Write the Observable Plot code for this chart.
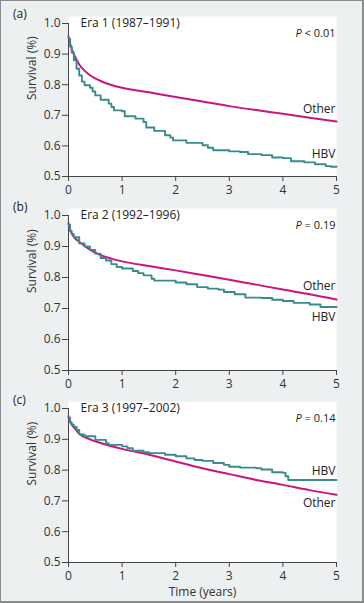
<!DOCTYPE html>
<html>
<head>
<meta charset="utf-8">
<script src="https://cdn.jsdelivr.net/npm/d3@7"></script>
<script src="https://cdn.jsdelivr.net/npm/@observablehq/plot@0.6"></script>
<style>
  html, body { margin:0; padding:0; }
  body { width:364px; height:603px; position:relative; background:#edf0f1; overflow:hidden; font-family:"Open Sans", sans-serif; }
  #border { position:absolute; left:0; top:0; width:364px; height:603px; box-sizing:border-box; border:1px solid #8a8c8e; border-right-width:2px; border-bottom-width:2px; pointer-events:none; }
  .panel { position:absolute; left:0; }
  .plabel { position:absolute; left:13px; font-size:12px; color:#222; line-height:1; }
</style>
</head>
<body>
<div id="border"></div>
<script>
const panelLabels = ["(a)", "(b)", "(c)"];
const eraTitles = ["Era 1 (1987–1991)", "Era 2 (1992–1996)", "Era 3 (1997–2002)"];
const pTexts = ["< 0.01", "= 0.19", "= 0.14"];
const seriesNames = ["Other", "HBV"];
const xTicks = [0, 1, 2, 3, 4, 5];
const yTicks = [0.5, 0.6, 0.7, 0.8, 0.9, 1.0];
const xLabel = "Time (years)";
const yLabel = "Survival (%)";

// Era 1
const otherA = [[0,0.958],[0.03,0.935],[0.07,0.912],[0.12,0.892],[0.2,0.866],[0.3,0.846],[0.4,0.831],[0.5,0.821],[0.6,0.812],[0.8,0.799],[1,0.790],[1.5,0.775],[2,0.760],[2.5,0.745],[3,0.730],[3.5,0.717],[4,0.705],[4.5,0.692],[5,0.680]];
const hbvA = [[0,0.950],[0.03,0.925],[0.06,0.905],[0.1,0.880],[0.15,0.852],[0.2,0.830],[0.25,0.810],[0.3,0.798],[0.4,0.790],[0.45,0.778],[0.5,0.765],[0.6,0.751],[0.75,0.738],[0.8,0.727],[0.85,0.716],[1,0.713],[1.05,0.697],[1.25,0.689],[1.4,0.678],[1.45,0.660],[1.6,0.649],[1.8,0.635],[1.9,0.627],[1.95,0.618],[2.2,0.610],[2.5,0.602],[2.6,0.594],[2.7,0.586],[3,0.582],[3.2,0.580],[3.35,0.573],[3.6,0.570],[3.8,0.562],[4,0.560],[4.15,0.550],[4.4,0.546],[4.6,0.540],[4.8,0.534],[4.9,0.532],[5,0.532]];
// Era 2
const otherB = [[0,0.976],[0.03,0.955],[0.06,0.942],[0.1,0.931],[0.2,0.915],[0.3,0.902],[0.4,0.890],[0.6,0.872],[0.8,0.861],[1,0.852],[1.5,0.837],[2,0.823],[2.5,0.808],[3,0.793],[3.5,0.777],[4,0.761],[4.5,0.746],[5,0.729]];
const hbvB = [[0,0.970],[0.03,0.950],[0.06,0.940],[0.1,0.930],[0.2,0.910],[0.3,0.900],[0.4,0.889],[0.5,0.877],[0.6,0.863],[0.7,0.855],[0.8,0.843],[0.9,0.834],[1,0.829],[1.2,0.821],[1.3,0.814],[1.4,0.807],[1.55,0.796],[1.6,0.790],[2,0.784],[2.2,0.778],[2.4,0.769],[2.6,0.764],[2.8,0.761],[2.9,0.753],[3.1,0.746],[3.3,0.735],[3.6,0.734],[3.8,0.728],[4,0.724],[4.2,0.718],[4.5,0.713],[4.7,0.705],[5,0.705]];
// Era 3
const otherC = [[0,0.975],[0.03,0.958],[0.06,0.948],[0.1,0.939],[0.2,0.918],[0.4,0.900],[0.6,0.888],[1,0.869],[1.5,0.850],[2,0.828],[2.5,0.806],[3,0.787],[3.5,0.768],[4,0.752],[4.5,0.735],[5,0.720]];
const hbvC = [[0,0.970],[0.03,0.955],[0.06,0.947],[0.1,0.940],[0.15,0.930],[0.2,0.916],[0.3,0.910],[0.5,0.898],[0.7,0.887],[0.75,0.882],[1,0.877],[1.1,0.871],[1.2,0.863],[1.4,0.858],[1.5,0.855],[1.8,0.850],[2,0.845],[2.2,0.838],[2.35,0.833],[2.5,0.830],[2.7,0.823],[2.9,0.817],[3,0.811],[3.2,0.808],[3.5,0.806],[3.6,0.802],[3.8,0.793],[4,0.791],[4.05,0.780],[4.1,0.768],[5,0.768]];

const otherSeries = [otherA, otherB, otherC];
const hbvSeries = [hbvA, hbvB, hbvC];

const MAGENTA = "#c6177f";
const TEAL = "#3a8a8c";
const TEXT = "#222";
const AXIS = "#444";
const FS = 12;

const panelTops = [0, 192, 385];
const plotHeights = [153, 155, 154];
const labelTops = [8, 201, 394];
// label offsets (px) for [Other, HBV] relative to line end
const endDy = [[-12, -13], [-13, 10], [8, -9]];

function toRows(arr) { return arr.map(([t, s]) => ({t, s})); }

for (let i = 0; i < 3; i++) {
  const last = i === 2;
  const mb = last ? 40 : 20;
  const other = toRows(otherSeries[i]);
  const hbv = toRows(hbvSeries[i]);
  const otherEnd = [other[other.length - 1]];
  const hbvEnd = [hbv[hbv.length - 1]];
  const marks = [
    Plot.frame({fill: "white", stroke: null, insetTop: -7}),
    Plot.axisY({ticks: yTicks, tickSize: 6, tickPadding: 2, fontSize: FS, stroke: AXIS, fill: "#333", tickFormat: d => d.toFixed(1), label: null}),
    Plot.axisX({ticks: xTicks, tickSize: 5, tickPadding: 4, fontSize: FS, stroke: AXIS, fill: "#333", tickFormat: d => String(d), label: null}),
    Plot.ruleX([0], {stroke: AXIS}),
    Plot.ruleY([0.5], {stroke: AXIS}),
    Plot.text([yLabel], {frameAnchor: "left", rotate: -90, dx: -36, fill: "#333", fontSize: FS}),
    Plot.line(other, {x: "t", y: "s", stroke: MAGENTA, strokeWidth: 2, curve: "monotone-x"}),
    Plot.line(hbv, {x: "t", y: "s", stroke: TEAL, strokeWidth: 1.9, curve: "step-after"}),
    Plot.text([eraTitles[i]], {frameAnchor: "top-left", dx: 12, lineAnchor: "middle", fill: TEXT, fontSize: FS}),
    Plot.text([pTexts[i]], {frameAnchor: "top-right", dx: -1, dy: 10, lineAnchor: "middle", textAnchor: "end", fill: TEXT, fontSize: 11, className: "ptext"}),
    Plot.text(otherEnd, {x: "t", y: "s", text: () => seriesNames[0], dy: endDy[i][0], dx: -1, textAnchor: "end", lineAnchor: "middle", fill: TEXT, fontSize: FS}),
    Plot.text(hbvEnd, {x: "t", y: "s", text: () => seriesNames[1], dy: endDy[i][1], dx: -1, textAnchor: "end", lineAnchor: "middle", fill: TEXT, fontSize: FS})
  ];
  if (last) marks.push(Plot.text([xLabel], {frameAnchor: "bottom", dy: 30, lineAnchor: "middle", fill: "#333", fontSize: FS}));
  const chart = Plot.plot({
    width: 364,
    height: 23 + plotHeights[i] + mb,
    marginTop: 23,
    marginLeft: 68,
    marginRight: 28,
    marginBottom: mb,
    style: {background: "transparent", fontFamily: "Open Sans, sans-serif", fontSize: FS + "px", color: "#333", overflow: "visible"},
    x: {domain: [0, 5]},
    y: {domain: [0.5, 1.0]},
    marks
  });
  chart.classList.add("panel");
  chart.style.top = panelTops[i] + "px";
  document.body.appendChild(chart);

  // italic P prefix
  chart.querySelectorAll(".ptext text").forEach(t => {
    const rest = t.textContent;
    t.textContent = "";
    const p = document.createElementNS("http://www.w3.org/2000/svg", "tspan");
    p.setAttribute("font-style", "italic");
    p.textContent = "P";
    const r = document.createElementNS("http://www.w3.org/2000/svg", "tspan");
    r.textContent = " " + rest;
    t.appendChild(p);
    t.appendChild(r);
  });

  const lab = document.createElement("div");
  lab.className = "plabel";
  lab.style.top = labelTops[i] + "px";
  lab.textContent = panelLabels[i];
  document.body.appendChild(lab);
}
</script>
</body>
</html>
